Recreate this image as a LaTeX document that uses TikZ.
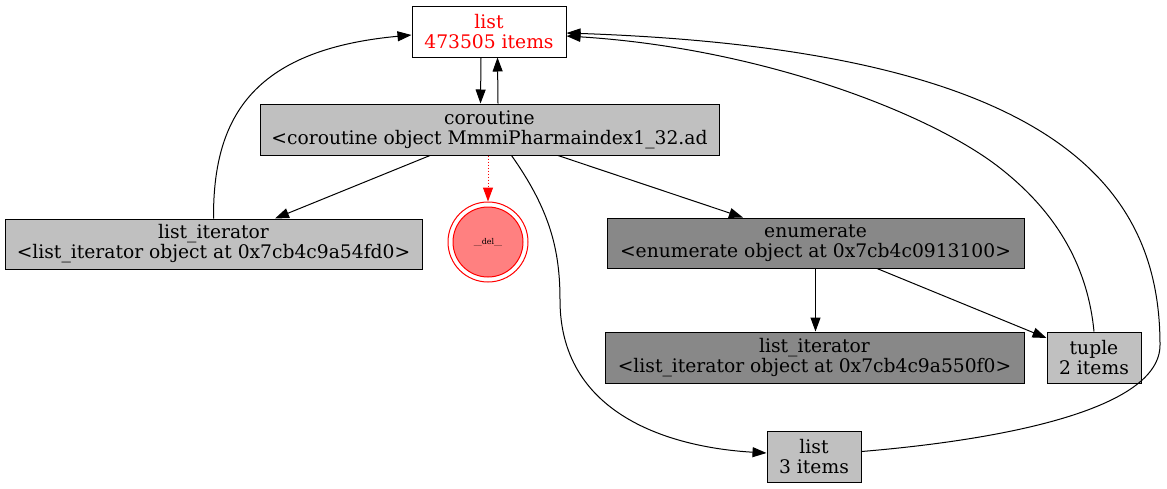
\documentclass[tikz,border=0pt]{standalone}
\usepackage{fontspec}
\setmainfont{DejaVu Serif}
\usetikzlibrary{arrows.meta}
\definecolor{lgray}{RGB}{192,192,192}
\definecolor{dgray}{RGB}{136,136,136}
\definecolor{delfill}{RGB}{255,128,128}
\tikzset{
  obj/.style={draw=black, line width=1pt, inner sep=0pt, align=center, font=\fontsize{18.7}{20}\selectfont},
  lg/.style={obj, fill=lgray},
  dg/.style={obj, fill=dgray},
  edge/.style={line width=1pt, -{Triangle[length=14pt,width=10pt]}},
}
\begin{document}
\begin{tikzpicture}[x=1pt,y=-1pt]
\fill[white] (0,0) rectangle (1167,488);
\useasboundingbox (0,0) rectangle (1167,488);
\node[obj, fill=white, minimum width=154pt, minimum height=51pt, text=red] (L0) at (489,31.5) {list\\473505 items};
\node[lg, minimum width=459pt, minimum height=51pt] (C) at (489.5,129.5) {coroutine\\<coroutine object MmmiPharmaindex1\_32.ad};
\node[lg, minimum width=417pt, minimum height=50pt] (LI1) at (213.5,244) {list\_iterator\\<list\_iterator object at 0x7cb4c9a54fd0>};
\node[circle, draw=red, line width=1pt, minimum size=80pt, inner sep=0pt] (DO) at (488,242) {};
\node[circle, draw=red, fill=delfill, line width=1pt, minimum size=70pt, inner sep=0pt, font=\fontsize{8}{9}\selectfont] (D) at (488,242) {\_\_del\_\_};
\node[dg, minimum width=417pt, minimum height=50pt] (E) at (815.5,243) {enumerate\\<enumerate object at 0x7cb4c0913100>};
\node[dg, minimum width=419pt, minimum height=51pt] (LI2) at (814.5,357.5) {list\_iterator\\<list\_iterator object at 0x7cb4c9a550f0>};
\node[lg, minimum width=94pt, minimum height=51pt] (T) at (1094,357.5) {tuple\\2 items};
\node[lg, minimum width=94pt, minimum height=51pt] (L3) at (814,456.5) {list\\3 items};

\draw[edge] ([xshift=-8pt]L0.south) -- ([xshift=-9pt]C.north);
\draw[edge] ([xshift=8.5pt]C.north) -- ([xshift=8.5pt]L0.south);
\draw[edge] (LI1.north) .. controls (213,120) and (250,50) .. ([yshift=-3.5pt]L0.west);
\draw[edge] ([xshift=-59.5pt]C.south) -- ([xshift=61.5pt]LI1.north);
\draw[edge, red, dotted] (C.south -| DO.north) -- (DO.north);
\draw[edge] ([xshift=22pt]C.south) .. controls (550,210) and (560,250) .. (560,300) .. controls (560,420) and (680,448) .. ([yshift=3.5pt]L3.west);
\draw[edge] ([xshift=68.5pt]C.south) -- ([xshift=-72.5pt]E.north);
\draw[edge] (E.south) -- (E.south |- LI2.north);
\draw[edge] ([xshift=61.5pt]E.south) -- ([yshift=19.5pt]T.west);
\draw[edge] (T.north) .. controls (1088,270) and (1060,215) .. (1000,168) .. controls (930,113) and (760,48) .. ([yshift=-4.5pt]L0.east);
\draw[edge] ([yshift=5pt]L3.east) .. controls (1000,440) and (1160,410) .. (1160,345) .. controls (1160,190) and (1060,50) .. ([yshift=-1.5pt]L0.east);
\end{tikzpicture}
\end{document}
